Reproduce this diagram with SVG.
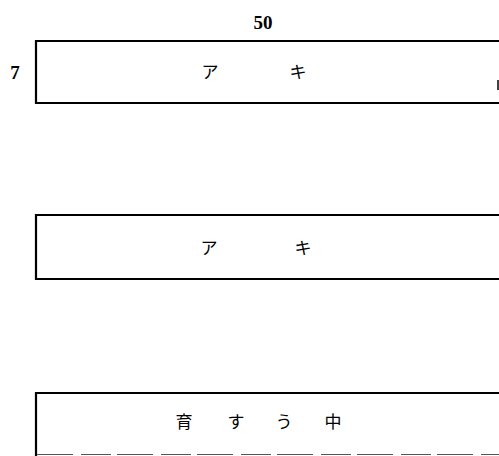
<svg xmlns="http://www.w3.org/2000/svg" width="499" height="456" viewBox="0 0 499 456">
<style>
.box{fill:none;stroke:#000;stroke-width:2.2}
.t{font-family:"Noto Sans CJK JP","Liberation Serif",serif;font-size:17px;fill:#000;text-anchor:middle}
.n{font-family:"Liberation Serif",serif;font-size:19px;font-weight:bold;fill:#000;text-anchor:middle}
</style>
<rect width="499" height="456" fill="#fff"/>
<g id="labels">
<text class="n" x="263" y="29">50</text>
<text class="n" x="15" y="79">7</text>
</g>
<g id="box1">
<path class="box" d="M500,41 H36 V103 H500"/>
<line x1="498" y1="80" x2="498" y2="90" stroke="#000" stroke-width="1.5"/>
<text class="t" x="210" y="78">ア</text>
<text class="t" x="298" y="78">キ</text>
</g>
<g id="box2">
<path class="box" d="M500,215 H36 V279 H500"/>
<text class="t" x="209" y="254">ア</text>
<text class="t" x="303" y="254">キ</text>
</g>
<g id="box3">
<path class="box" d="M500,393 H36 V456"/>
<line x1="37" y1="454.5" x2="499" y2="454.5" stroke="#555" stroke-width="1.2" stroke-dasharray="36 8 30 6"/>
<text class="t" x="184" y="428">育</text>
<text class="t" x="236" y="428">す</text>
<text class="t" x="284" y="428">う</text>
<text class="t" x="333" y="428">中</text>
</g>
<g id="connectors"></g>
</svg>
